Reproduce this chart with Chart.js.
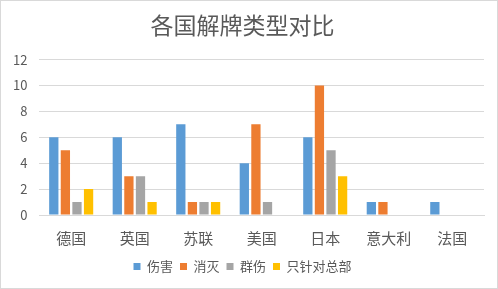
<!DOCTYPE html>
<html>
<head>
<meta charset="utf-8">
<script src="https://cdn.jsdelivr.net/npm/chart.js@4"></script>
<style>
  html, body { margin: 0; padding: 0; background: #fff; }
  #wrap { width: 498px; height: 289px; box-sizing: border-box; border: 1px solid #d9d9d9; }
</style>
</head>
<body>
<div id="wrap"><canvas id="chart" width="496" height="287"></canvas></div>
<script>
// ── Dados ────────────────────────────────────────────────────────────────────
const categorias = ['德国', '英国', '苏联', '美国', '日本', '意大利', '法国'];
const shanghai   = [6, 6, 7, 4, 6, 1, 1];   // 伤害
const xiaomie    = [5, 3, 1, 7, 10, 1, 0];  // 消灭
const qunshang   = [1, 3, 1, 1, 5, 0, 0];   // 群伤
const zongbu     = [2, 1, 1, 0, 3, 0, 0];   // 只针对总部
const yTicks     = [0, 2, 4, 6, 8, 10, 12];

const FONT = '"Noto Sans CJK SC", "Microsoft YaHei", sans-serif';
const TEXT = '#595959';
const GRID = '#d9d9d9';

function serie(label, data, cor) {
    return { label, data, backgroundColor: cor, borderWidth: 0,
             barPercentage: 0.8, categoryPercentage: 0.73 };
}

new Chart(document.getElementById('chart'), {
    type: 'bar',
    data: {
        labels: categorias,
        datasets: [
            serie('伤害', shanghai, '#5B9BD5'),
            serie('消灭', xiaomie, '#ED7D31'),
            serie('群伤', qunshang, '#A5A5A5'),
            serie('只针对总部', zongbu, '#FFC000'),
        ]
    },
    options: {
        responsive: false,
        animation: false,
        layout: { padding: { left: 0, right: 13, top: 4, bottom: 5 } },
        plugins: {
            title: {
                display: true, text: '各国解牌类型对比', color: TEXT,
                font: { family: FONT, size: 23, weight: 'normal' },
                padding: { top: 6, bottom: 21 }
            },
            legend: {
                position: 'bottom',
                labels: {
                    color: TEXT, font: { family: FONT, size: 13 },
                    boxWidth: 7, boxHeight: 7, padding: 7
                }
            },
            tooltip: { enabled: false }
        },
        scales: {
            x: {
                grid: { display: false },
                border: { color: GRID },
                ticks: { color: TEXT, font: { family: FONT, size: 15 }, padding: 6 }
            },
            y: {
                min: 0, max: 12,
                afterBuildTicks: (axis) => { axis.ticks = yTicks.map(v => ({ value: v })); },
                grid: { color: GRID, drawTicks: false },
                border: { display: false },
                ticks: { color: TEXT, font: { family: FONT, size: 13 }, padding: 12 }
            }
        }
    }
});
</script>
</body>
</html>
